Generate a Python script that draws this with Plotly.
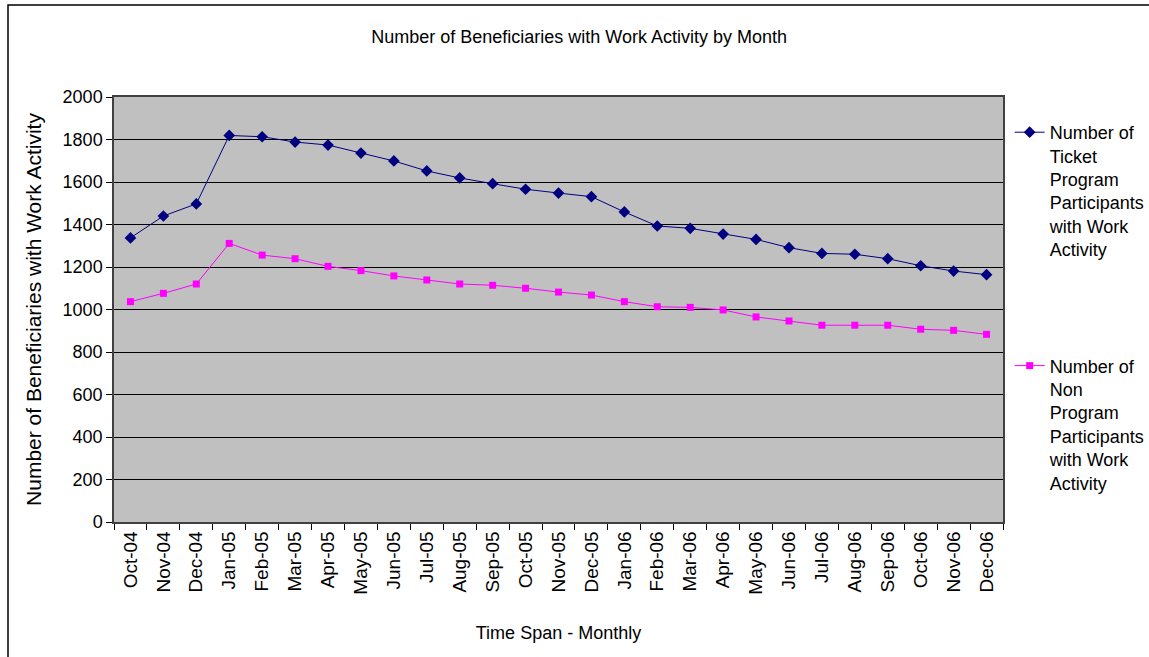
import plotly.graph_objects as go

months = ["Oct-04", "Nov-04", "Dec-04", "Jan-05", "Feb-05", "Mar-05", "Apr-05", "May-05", "Jun-05",
          "Jul-05", "Aug-05", "Sep-05", "Oct-05", "Nov-05", "Dec-05", "Jan-06", "Feb-06", "Mar-06",
          "Apr-06", "May-06", "Jun-06", "Jul-06", "Aug-06", "Sep-06", "Oct-06", "Nov-06", "Dec-06"]

ticket_participants = [1337, 1440, 1497, 1819, 1813, 1788, 1774, 1736, 1699,
                       1652, 1619, 1592, 1566, 1548, 1531, 1459, 1393, 1382,
                       1355, 1330, 1291, 1264, 1260, 1239, 1206, 1181, 1164]

non_participants = [1037, 1076, 1120, 1311, 1256, 1239, 1203, 1183, 1158,
                    1139, 1120, 1114, 1100, 1082, 1068, 1037, 1013, 1010,
                    998, 965, 946, 926, 926, 926, 907, 902, 883]

y_ticks = [0, 200, 400, 600, 800, 1000, 1200, 1400, 1600, 1800, 2000]

series_names = ["Number of<br>Ticket<br>Program<br>Participants<br>with Work<br>Activity",
                "Number of<br>Non<br>Program<br>Participants<br>with Work<br>Activity"]

FONT = "Liberation Sans, Arial, sans-serif"

fig = go.Figure()
fig.add_trace(go.Scatter(
    x=months, y=ticket_participants, mode="lines+markers", name=series_names[0],
    legendgroup="a",
    line=dict(color="#000080", width=1),
    marker=dict(symbol="diamond", size=9, color="#000080"),
))
fig.add_trace(go.Scatter(
    x=months, y=non_participants, mode="lines+markers", name=series_names[1],
    legendgroup="b",
    line=dict(color="#FF00FF", width=1),
    marker=dict(symbol="square", size=7, color="#FF00FF"),
))

fig.update_layout(
    width=1149, height=657,
    margin=dict(l=114, r=146, t=97, b=135, autoexpand=False),
    paper_bgcolor="white",
    plot_bgcolor="#C0C0C0",
    font=dict(family=FONT, color="black", size=18),
    title=dict(text="Number of Beneficiaries with Work Activity by Month",
               x=0.504, xref="container", xanchor="center",
               y=1 - 37 / 657, yref="container", yanchor="middle",
               font=dict(size=18, family=FONT)),
    showlegend=True,
    legend=dict(x=1.0075, xanchor="left", y=0.96, yanchor="top",
                font=dict(size=18, family=FONT), valign="top",
                traceorder="grouped", tracegroupgap=90,
                bgcolor="rgba(0,0,0,0)", itemwidth=30),
    xaxis=dict(
        type="category", tickangle=-90, tickson="boundaries",
        ticks="outside", ticklen=6, tickcolor="black",
        showgrid=False, showline=True, linecolor="#404040", linewidth=1.5, mirror=True,
        tickfont=dict(size=19, family=FONT),
        title=dict(text="Time Span - Monthly", font=dict(size=18, family=FONT), standoff=33),
        range=[-0.5, len(months) - 0.5],
    ),
    yaxis=dict(
        range=[0, 2000], tickvals=y_ticks,
        ticks="outside", ticklen=6, tickcolor="black",
        showgrid=True, gridcolor="black", gridwidth=1,
        showline=True, linecolor="#404040", linewidth=1.5, mirror=True,
        zeroline=False,
        tickfont=dict(size=18, family=FONT),
        title=dict(text="Number of Beneficiaries with Work Activity",
                   font=dict(size=21, family=FONT), standoff=15),
    ),
    shapes=[dict(type="rect", xref="paper", yref="paper",
                 x0=(8 - 114) / 889, x1=(1160 - 114) / 889,
                 y0=(522 - 670) / 425, y1=1 + (97 - 5) / 425,
                 line=dict(color="black", width=1.5), fillcolor="rgba(0,0,0,0)")],
)

fig.write_html("out.html", config={"displayModeBar": False},
               post_script="document.body.style.margin='0px';")
